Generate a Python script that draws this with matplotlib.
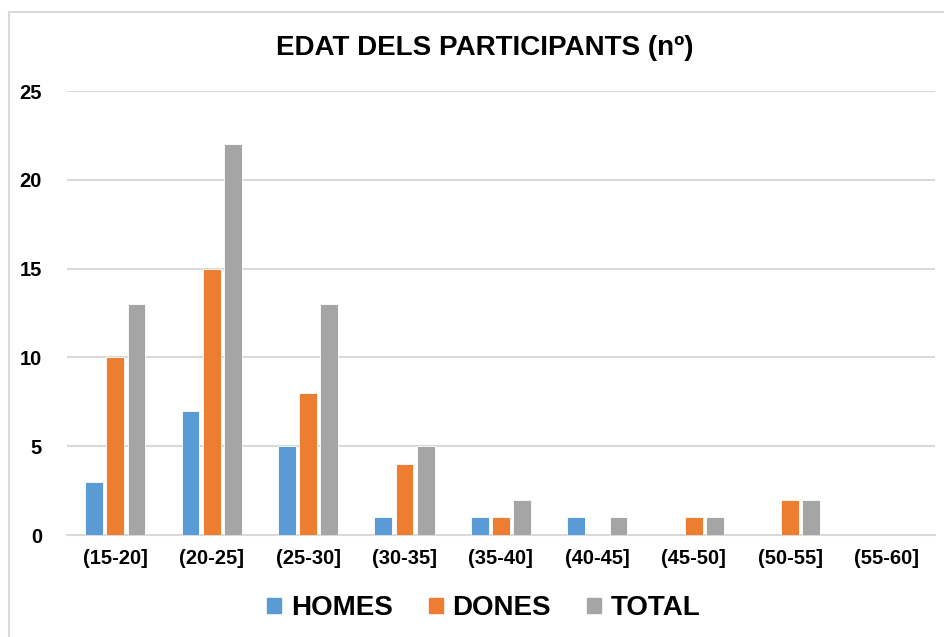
import matplotlib.pyplot as plt
import matplotlib.patches as mpatches
import numpy as np

categories = ["(15-20]", "(20-25]", "(25-30]", "(30-35]", "(35-40]",
              "(40-45]", "(45-50]", "(50-55]", "(55-60]"]
homes = [3, 7, 5, 1, 1, 1, 0, 0, 0]
dones = [10, 15, 8, 4, 1, 0, 1, 2, 0]
total = [13, 22, 13, 5, 2, 1, 1, 2, 0]
series_names = ["HOMES", "DONES", "TOTAL"]
colors = ["#5B9BD5", "#ED7D31", "#A5A5A5"]

plt.rcParams['font.family'] = ['Liberation Sans', 'DejaVu Sans']

fig = plt.figure(figsize=(9.45, 6.37), dpi=100)
ax = fig.add_axes([0.071, 0.160, 0.918, 0.697])

# chart border
fig.patches.append(mpatches.Rectangle((9 / 945, -0.05), 1.0, 1.05 - 12 / 637,
                                      transform=fig.transFigure, fill=False,
                                      edgecolor="#D9D9D9", linewidth=1.5))

x = np.arange(len(categories))
step = 0.22
for i, (vals, name, c) in enumerate(zip([homes, dones, total], series_names, colors)):
    ax.bar(x + (i - 1) * step, vals, width=0.185, color=c, label=name,
           edgecolor="white", linewidth=0.6, zorder=3)

ax.set_xlim(-0.5, len(categories) - 0.5)
ax.set_ylim(0, 25)
ax.set_yticks(range(0, 26, 5))
ax.yaxis.grid(True, color="#D9D9D9", linewidth=1.5, zorder=0)
ax.set_xticks(x)
ax.set_xticklabels(categories)
ax.tick_params(axis='both', length=0, labelsize=14.5)
for lab in ax.get_xticklabels() + ax.get_yticklabels():
    lab.set_fontweight('bold')
ax.tick_params(axis='y', pad=18)
ax.tick_params(axis='x', pad=10)
for s in ["top", "right", "left"]:
    ax.spines[s].set_visible(False)
ax.spines["bottom"].set_color("#D9D9D9")
ax.spines["bottom"].set_linewidth(1.5)

fig.text(0.513, 0.925, "EDAT DELS PARTICIPANTS (nº)", ha="center", va="center",
         fontsize=20, fontweight="bold")

handles = [mpatches.Patch(color=c) for c in colors]
fig.legend(handles, series_names, loc="center", bbox_to_anchor=(0.512, 0.045),
           ncol=3, frameon=False, prop={'size': 20, 'weight': 'bold'},
           handlelength=0.5, handleheight=0.5, handletextpad=0.35, columnspacing=1.3)

fig.savefig("out.png", dpi=100)
